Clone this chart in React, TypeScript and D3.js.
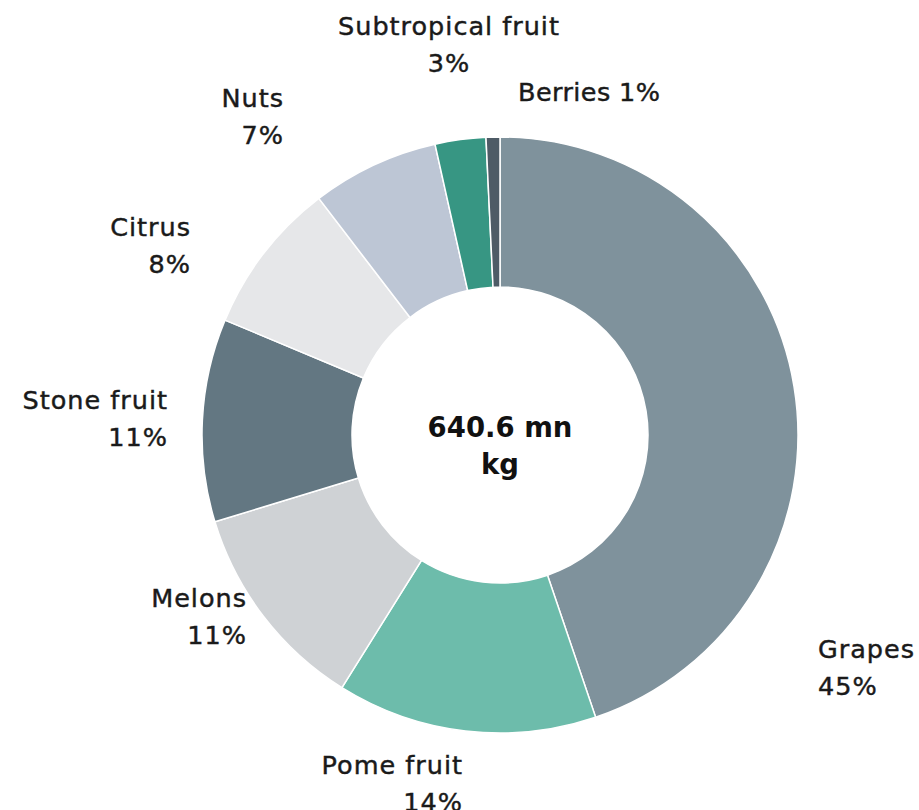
import React from "react";
import * as d3 from "d3";

const categories = ["Grapes", "Pome fruit", "Melons", "Stone fruit", "Citrus", "Nuts", "Subtropical fruit", "Berries"];
const shares = [44.8, 14.1, 11.4, 11.0, 8.3, 6.9, 2.75, 0.75];
const colors = ["#7f929c", "#6dbcab", "#cfd2d5", "#637782", "#e6e7e9", "#bdc6d5", "#379683", "#4e5b66"];
const centerLines = ["640.6 mn", "kg"];

// label layout: [x, y of first baseline, anchor, single-line]
const labelLayout: [number, number, string, boolean][] = [
  [818, 658, "start", false],
  [463, 774, "end", false],
  [247, 607, "end", false],
  [168, 409, "end", false],
  [191, 236, "end", false],
  [284, 107, "end", false],
  [449, 35, "middle", false],
  [518, 101, "start", true],
];

export default function App() {
  const W = 919, H = 810;
  const cx = 500, cy = 435, R = 298, r = 148;
  const pie = d3.pie<number>().sort(null).value((d) => d);
  const arcs = pie(shares);
  const arc = d3.arc<d3.PieArcDatum<number>>().innerRadius(r).outerRadius(R);
  const font = "'DejaVu Sans', 'Open Sans', sans-serif";
  return (
    <svg width={W} height={H} style={{ position: "absolute", left: 0, top: 0, background: "#fff" }} fontFamily={font}>
      <g transform={`translate(${cx},${cy})`}>
        {arcs.map((a, i) => (
          <path key={i} d={arc(a) || ""} fill={colors[i]} stroke="#fff" strokeWidth={1.5} />
        ))}
        {centerLines.map((t, i) => (
          <text key={i} x={0} y={2 + i * 37} textAnchor="middle" fontSize={27.5} fontWeight={700} fill="#111">{t}</text>
        ))}
      </g>
      {categories.map((c, i) => {
        const [x, y, anchor, single] = labelLayout[i];
        const pct = `${Math.round(shares[i])}%`;
        return (
          <text key={c} x={x} y={y} textAnchor={anchor as any} fontSize={25.5} letterSpacing={single ? 0.4 : 1}
            fill="#1a1a1a" stroke="#1a1a1a" strokeWidth={0.45}>
            {single ? (
              `${c} ${pct}`
            ) : (
              <>
                <tspan x={x}>{c}</tspan>
                <tspan x={x} dy={37}>{pct}</tspan>
              </>
            )}
          </text>
        );
      })}
    </svg>
  );
}
